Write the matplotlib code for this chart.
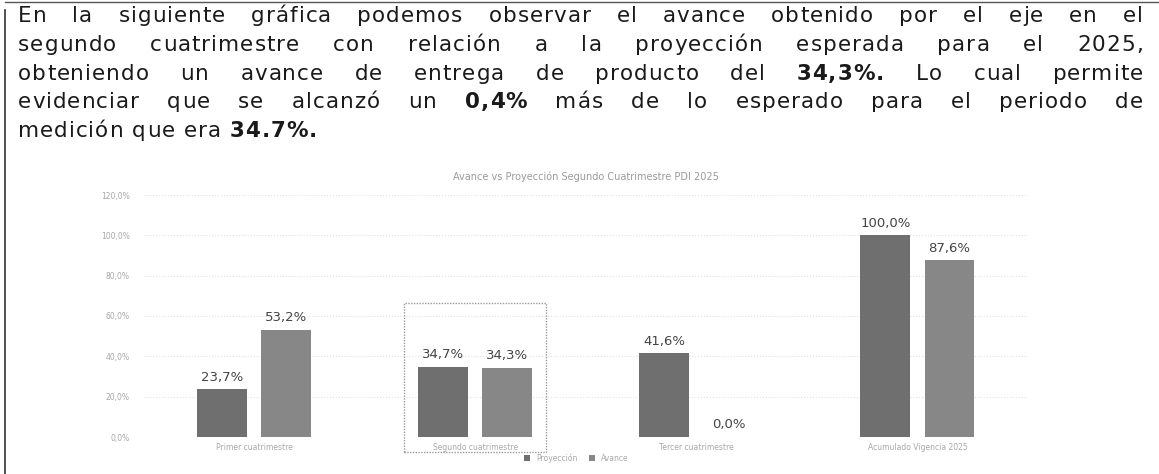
import matplotlib.pyplot as plt
import numpy as np
from matplotlib.lines import Line2D
from matplotlib.patches import Rectangle
from matplotlib.ticker import FuncFormatter
from matplotlib.transforms import IdentityTransform

# texto del informe (lo que va entre ** va en negrita)
parrafo = [
    "En la siguiente gráfica podemos observar el avance obtenido por el eje en el",
    "segundo cuatrimestre con relación a la proyección esperada para el 2025,",
    "obteniendo un avance de entrega de producto del **34,3%.** Lo cual permite",
    "evidenciar que se alcanzó un **0,4%** más de lo esperado para el periodo de",
    "medición que era **34.7%.**",
]

titulo = "Avance vs Proyección Segundo Cuatrimestre PDI 2025"
categorias = ["Primer cuatrimestre", "Segundo cuatrimestre",
              "Tercer cuatrimestre", "Acumulado Vigencia 2025"]
proyeccion = [23.7, 34.7, 41.6, 100.0]
avance = [53.2, 34.3, 0.0, 87.6]
ticks_y = [0, 20, 40, 60, 80, 100, 120]

W, H = 1159, 474
fig = plt.figure(figsize=(W / 100, H / 100), dpi=100)
renderer = fig.canvas.get_renderer()

# parrafo justificado, letra por letra con algo de espaciado (el escaneo es ancho)
x0, x1 = 18, 1143
base = 22
salto = 28.8
tam = 15.5
track = 1.0
for i, linea in enumerate(parrafo):
    y = H - (base + i * salto)
    letras = []  # (texto, es_espacio)
    for palabra_i, palabra in enumerate(linea.split(" ")):
        if palabra_i > 0:
            letras.append((None, True))
        negrita = palabra.startswith("**")
        for c in palabra.replace("**", ""):
            t = fig.text(0, y, c, transform=IdentityTransform(), fontsize=tam,
                         fontweight="bold" if negrita else "normal",
                         color="#1a1a1a", va="baseline", ha="left",
                         family="DejaVu Sans")
            letras.append((t, False))
    anchos = [t.get_window_extent(renderer).width if t else 0 for t, _ in letras]
    n_esp = sum(1 for _, e in letras if e)
    n_let = len(letras) - n_esp
    total = sum(anchos) + track * (n_let - 1)
    if i < len(parrafo) - 1:
        hueco = (x1 - x0 - total) / n_esp
    else:
        hueco = 0.32 * tam * 100 / 72 + track
    x = x0
    for (t, e), w in zip(letras, anchos):
        if e:
            x += hueco
        else:
            t.set_x(x)
            x += w + track

# marco del documento
fig.add_artist(Line2D([5 / W, 5 / W], [0, 1 - 10 / H], color="#333333", lw=1.2))
fig.add_artist(Line2D([5 / W, 1], [1 - 2 / H, 1 - 2 / H], color="#555555", lw=1.0))

# grafica
ax = fig.add_axes([143.5 / W, 37 / H, 884.5 / W, 242 / H])
x = np.arange(len(categorias))
ancho = 0.225
sep = 0.145
b1 = ax.bar(x - sep, proyeccion, ancho, color="#6f6f6f", label="Proyección")
b2 = ax.bar(x + sep, avance, ancho, color="#878787", label="Avance")

for barras in (b1, b2):
    for b in barras:
        v = b.get_height()
        ax.annotate(f"{v:.1f}%".replace(".", ","),
                    (b.get_x() + b.get_width() / 2, v),
                    xytext=(0, 4), textcoords="offset points",
                    ha="center", va="bottom", fontsize=9.5, color="#444444")

ax.set_xlim(-0.5, len(categorias) - 0.5)
ax.set_ylim(0, 120)
ax.set_yticks(ticks_y)
ax.yaxis.set_major_formatter(FuncFormatter(lambda v, _: f"{v:.1f}%".replace(".", ",")))
ax.set_xticks(x)
ax.set_xticklabels(categorias)
ax.tick_params(axis="both", length=0, labelsize=5.5, labelcolor="#a8a8a8")
ax.tick_params(axis="y", pad=10)
ax.tick_params(axis="x", pad=4)
for s in ax.spines.values():
    s.set_visible(False)
ax.grid(axis="y", color="#e2e2e2", lw=0.8, ls=":")
ax.set_axisbelow(True)
ax.set_title(titulo, fontsize=7, color="#9a9a9a", pad=11)

# recuadro que resalta el segundo cuatrimestre
ax.add_patch(Rectangle((1 - 0.32, -7.4), 0.64, 66.4 + 7.4, fill=False,
                       edgecolor="#9a9a9a", lw=1.0, ls=(0, (1, 1)), clip_on=False))

fig.legend(handles=[b1, b2], loc="center", bbox_to_anchor=(576 / W, 16 / H),
           ncol=2, frameon=False, fontsize=5.5, labelcolor="#a8a8a8",
           handlelength=0.8, handleheight=0.8, columnspacing=1.5)

fig.savefig("out.png", dpi=100)
